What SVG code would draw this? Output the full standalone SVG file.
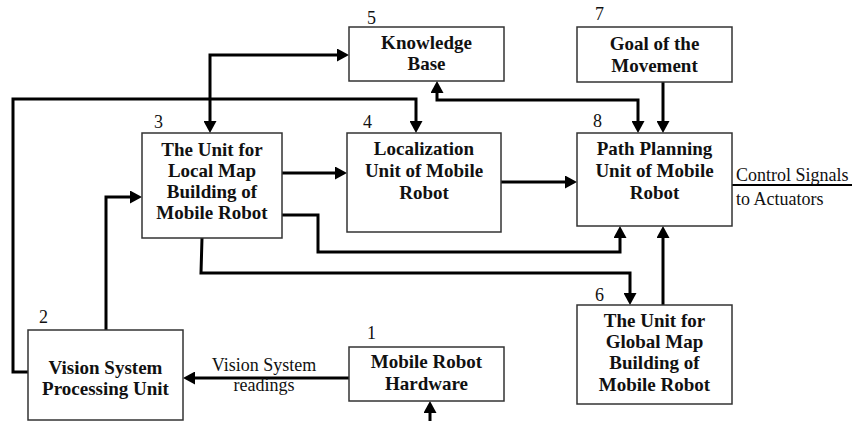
<svg xmlns="http://www.w3.org/2000/svg" width="852" height="421" viewBox="0 0 852 421">
  <defs>
    <marker id="arrow" markerUnits="userSpaceOnUse" markerWidth="12" markerHeight="13" refX="8" refY="6.5" orient="auto-start-reverse">
      <path d="M0,0 L12,6.5 L0,13 Z" fill="#000"/>
    </marker>
    <linearGradient id="edgeFade" x1="0" y1="0" x2="0" y2="1">
      <stop offset="0" stop-color="#fff"/>
      <stop offset="1" stop-color="#555"/>
    </linearGradient>
    <linearGradient id="baseFade" x1="0" y1="0" x2="1" y2="0">
      <stop offset="0" stop-color="#888"/>
      <stop offset="1" stop-color="#fff"/>
    </linearGradient>
  </defs>
  <style>
    .box { fill: #fff; stroke: #333; stroke-width: 1.5; }
    .title { font-family: "Liberation Serif", "Times New Roman", serif; font-size: 19px; font-weight: bold; fill: #111; text-anchor: middle; }
    .num { font-family: "Liberation Serif", "Times New Roman", serif; font-size: 18px; fill: #111; }
    .lbl { font-family: "Liberation Serif", "Times New Roman", serif; font-size: 18px; fill: #111; }
    .wire { fill: none; stroke: #000; stroke-width: 3; stroke-linejoin: miter; }
    .arr { marker-end: url(#arrow); }
    .both { marker-start: url(#arrow); marker-end: url(#arrow); }
  </style>
  <rect width="852" height="421" fill="#fff"/>

  <!-- faint scan edges -->
  <line x1="851" y1="322" x2="851" y2="421" stroke="url(#edgeFade)" stroke-width="1.5"/>
  <line x1="432" y1="419.5" x2="482" y2="419.5" stroke="url(#baseFade)" stroke-width="1"/>

  <g id="connectors">
    <path class="wire both" d="M210,129 V55 H345"/>
    <path class="wire arr" d="M28,372 H13 V99 H416 V129"/>
    <path class="wire arr" d="M106,330 V197 H138"/>
    <path class="wire arr" d="M282,173 H343"/>
    <path class="wire arr" d="M501,182 H573"/>
    <path class="wire both" d="M437,85 V100 H638 V129"/>
    <path class="wire arr" d="M663,82 V129"/>
    <path class="wire arr" d="M282,215 H318 V252 H620 V230"/>
    <path class="wire arr" d="M202,238 L201,273 H630 V301"/>
    <path class="wire arr" d="M663,305 V230"/>
    <path class="wire arr" d="M349,378 H187"/>
    <path class="wire arr" d="M430,421 V405"/>
    <path fill="none" stroke="#000" stroke-width="2" d="M732,185 H852"/>
    <text class="lbl" x="264" y="371" text-anchor="middle">Vision System</text>
    <text class="lbl" x="264" y="391" text-anchor="middle">readings</text>
    <text class="lbl" x="736" y="181">Control Signals</text>
    <text class="lbl" x="736" y="205">to Actuators</text>
  </g>

  <g id="node-5">
    <rect class="box" x="349" y="27" width="155" height="54"/>
    <text class="num" x="367" y="24">5</text>
    <text class="title" x="426.5" y="49">Knowledge</text>
    <text class="title" x="426.5" y="70">Base</text>
  </g>

  <g id="node-7">
    <rect class="box" x="577" y="27" width="155" height="55"/>
    <text class="num" x="595" y="20">7</text>
    <text class="title" x="654.5" y="50">Goal of the</text>
    <text class="title" x="654.5" y="72">Movement</text>
  </g>

  <g id="node-3">
    <rect class="box" x="142" y="133" width="140" height="105"/>
    <text class="num" x="154" y="128">3</text>
    <text class="title" x="212" y="156">The Unit for</text>
    <text class="title" x="212" y="177">Local Map</text>
    <text class="title" x="212" y="198">Building of</text>
    <text class="title" x="212" y="219">Mobile Robot</text>
  </g>

  <g id="node-4">
    <rect class="box" x="347" y="133" width="154" height="99"/>
    <text class="num" x="363" y="128">4</text>
    <text class="title" x="424" y="155">Localization</text>
    <text class="title" x="424" y="177">Unit of Mobile</text>
    <text class="title" x="424" y="199">Robot</text>
  </g>

  <g id="node-8">
    <rect class="box" x="577" y="133" width="155" height="93"/>
    <text class="num" x="593" y="127">8</text>
    <text class="title" x="654.5" y="155">Path Planning</text>
    <text class="title" x="654.5" y="177">Unit of Mobile</text>
    <text class="title" x="654.5" y="199">Robot</text>
  </g>

  <g id="node-6">
    <rect class="box" x="577" y="305" width="155" height="99"/>
    <text class="num" x="595" y="301">6</text>
    <text class="title" x="654.5" y="327">The Unit for</text>
    <text class="title" x="654.5" y="348">Global Map</text>
    <text class="title" x="654.5" y="369">Building of</text>
    <text class="title" x="654.5" y="391">Mobile Robot</text>
  </g>

  <g id="node-2">
    <rect class="box" x="28" y="330" width="155" height="90"/>
    <text class="num" x="39" y="323">2</text>
    <text class="title" x="105.5" y="374">Vision System</text>
    <text class="title" x="105.5" y="395">Processing Unit</text>
  </g>

  <g id="node-1">
    <rect class="box" x="349" y="347" width="155" height="54"/>
    <text class="num" x="367" y="339">1</text>
    <text class="title" x="426.5" y="368">Mobile Robot</text>
    <text class="title" x="426.5" y="390">Hardware</text>
  </g>
</svg>
